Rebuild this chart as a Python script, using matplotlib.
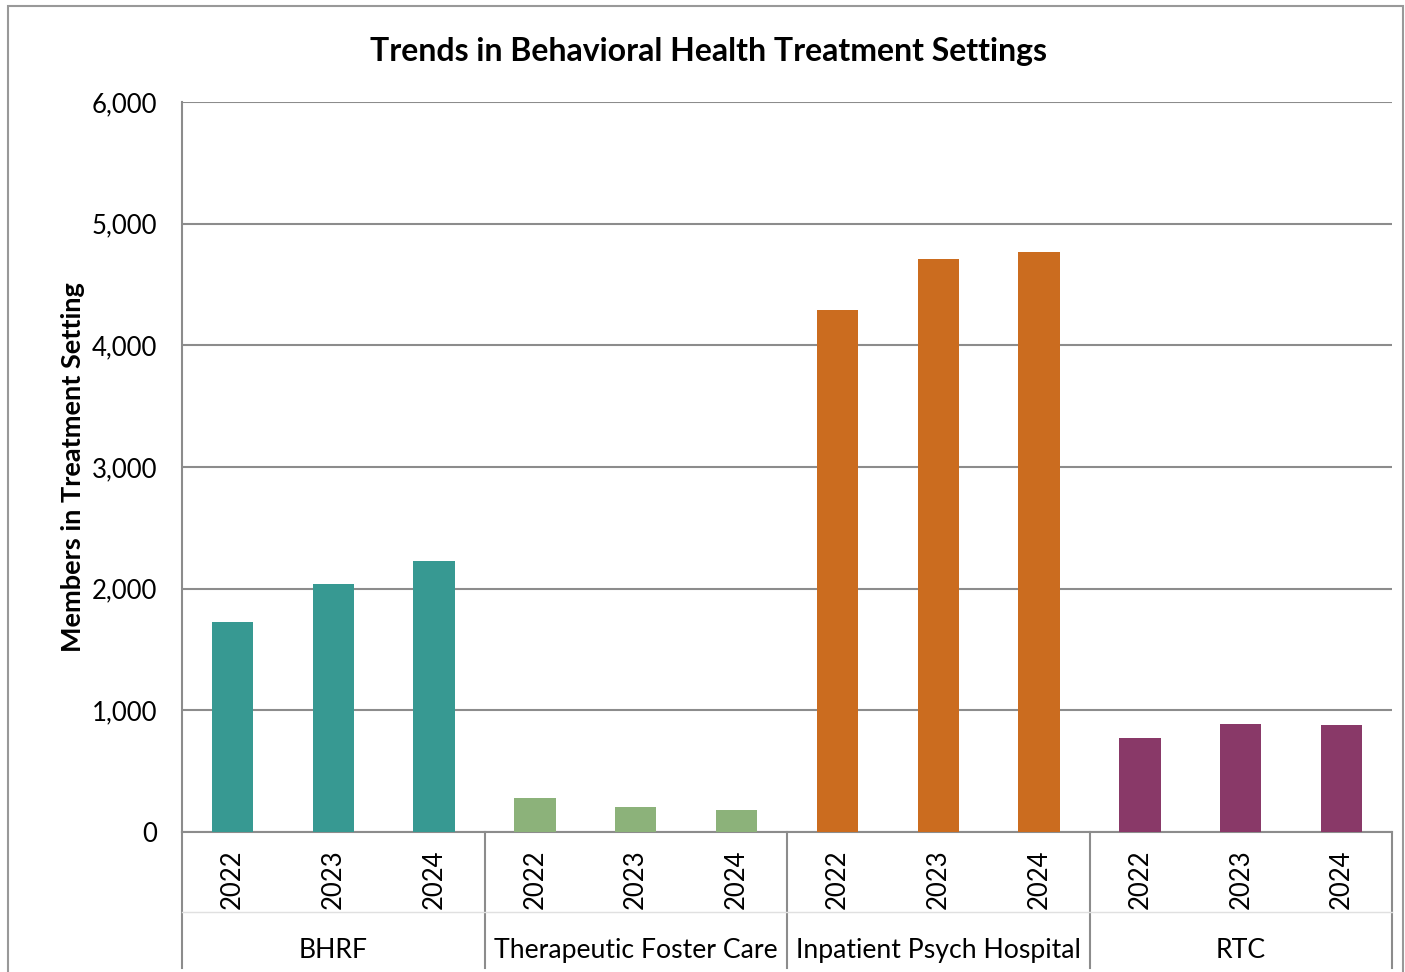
import numpy as np
import matplotlib.pyplot as plt
from matplotlib.patches import Rectangle
from matplotlib.ticker import FuncFormatter

plt.rcParams['font.family'] = ['Lato', 'DejaVu Sans']

groups = ['BHRF', 'Therapeutic Foster Care', 'Inpatient Psych Hospital', 'RTC']
years = ['2022', '2023', '2024']
bhrf = [1726, 2038, 2227]
tfc = [279, 205, 181]
iph = [4290, 4709, 4767]
rtc = [773, 888, 879]
colors = ['#379992', '#8cb27a', '#cb6c1f', '#893968']

W, H = 1405, 972
fig = plt.figure(figsize=(W / 100, H / 100), dpi=100)
ax = fig.add_axes([182 / W, (H - 832) / H, 1210 / W, 730 / H])

grid_c = '#8c8c8c'
vals = [bhrf, tfc, iph, rtc]
x = 0
for g, v in enumerate(vals):
    xs = np.arange(x, x + len(v))
    ax.bar(xs, v, width=0.41, color=colors[g], zorder=3)
    x += len(v)

ax.set_xlim(-0.5, x - 0.5)
ax.set_ylim(0, 6000)
ax.set_yticks(np.arange(0, 6001, 1000))
ax.yaxis.set_major_formatter(FuncFormatter(lambda v, p: f"{int(v):,}"))
ax.tick_params(axis='y', labelsize=18.5, length=0, pad=18)
ax.set_xticks([])
ax.grid(axis='y', color=grid_c, linewidth=1.5, zorder=0)
for s in ['top', 'right']:
    ax.spines[s].set_visible(False)
ax.spines['left'].set_color(grid_c)
ax.spines['left'].set_linewidth(1.5)
ax.spines['bottom'].set_color(grid_c)
ax.spines['bottom'].set_linewidth(1.5)

ax.set_ylabel('Members in Treatment Setting', fontsize=19.5, fontweight='bold', labelpad=5)
fig.text(709 / W, 1 - 52 / H, 'Trends in Behavioral Health Treatment Settings',
         ha='center', va='center', fontsize=23, fontweight='bold')

# category axis
px = 730.0
trans = ax.get_xaxis_transform()
bottom = -(968 - 832) / px
for b in [-0.5, 2.5, 5.5, 8.5, 11.5]:
    ax.plot([b, b], [0, bottom], color=grid_c, lw=1.5, transform=trans, clip_on=False)
ax.plot([-0.5, 11.5], [-(912 - 832) / px] * 2, color='#e0e0e0', lw=1, transform=trans, clip_on=False)
i = 0
for g, v in enumerate(vals):
    for j in range(len(v)):
        ax.text(i, -(879 - 832) / px, years[j], transform=trans, rotation=90,
                ha='center', va='center', fontsize=18.5)
        i += 1
    ax.text(i - 2, -(950 - 832) / px, groups[g], transform=trans,
            ha='center', va='center', fontsize=19.2)

fig.patches.append(Rectangle((8 / W, -0.01), (1403 - 8) / W, 1 - 6 / H + 0.01,
                             transform=fig.transFigure, fill=False,
                             edgecolor='#999999', lw=1.5))

fig.savefig('out.png', dpi=100)
